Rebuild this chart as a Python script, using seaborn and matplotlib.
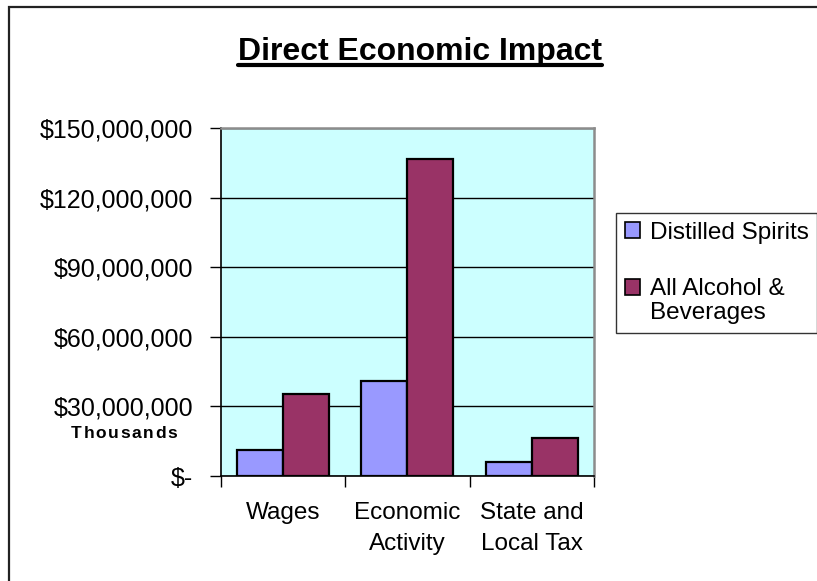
import numpy as np
import pandas as pd
import seaborn as sns
import matplotlib.pyplot as plt
from matplotlib.ticker import FuncFormatter, FixedLocator
from matplotlib.patches import Rectangle
from matplotlib.lines import Line2D

categories = ['Wages', 'Economic\nActivity', 'State and\nLocal Tax']
series = ['Distilled Spirits', 'All Alcohol &\nBeverages']
distilled = [11200000, 41000000, 5900000]
all_alcohol = [35300000, 136600000, 16200000]
yticks = [0, 30000000, 60000000, 90000000, 120000000, 150000000]

df = pd.DataFrame({
    'category': categories * 2,
    'series': [series[0]] * 3 + [series[1]] * 3,
    'value': distilled + all_alcohol,
})

sns.set_theme(style='white')
plt.rcParams['font.family'] = ['Liberation Sans', 'DejaVu Sans']
plt.rcParams['text.color'] = 'black'
plt.rcParams['xtick.color'] = 'black'
plt.rcParams['ytick.color'] = 'black'
plt.rcParams['xtick.labelcolor'] = 'black'
plt.rcParams['ytick.labelcolor'] = 'black'

W, H = 817, 581
fig = plt.figure(figsize=(W / 100, H / 100), dpi=100)
ax = fig.add_axes([220.7 / W, (H - 476) / H, (594 - 220.7) / W, (476 - 128) / H])
ax.set_facecolor('#CCFFFF')

sns.barplot(data=df, x='category', y='value', hue='series', order=categories,
            hue_order=series, palette=['#9999FF', '#993366'], width=0.74,
            edgecolor='black', linewidth=1.6, saturation=1, ax=ax)

ax.set_ylim(0, 150000000)
ax.set_xlim(-0.5, 2.5)
ax.yaxis.set_major_locator(FixedLocator(yticks))
ax.yaxis.set_major_formatter(FuncFormatter(lambda v, p: '$-' if v == 0 else '${:,.0f}'.format(v)))
ax.grid(axis='y', color='black', linewidth=1)
ax.set_axisbelow(True)
ax.set_xlabel('')
ax.set_ylabel('')

ax.tick_params(axis='y', direction='out', length=8, width=1, color='black',
               labelcolor='black', labelsize=18, pad=12, left=True)
ax.tick_params(axis='x', which='major', length=0, labelcolor='black',
               labelsize=17.5, pad=19)
ax.xaxis.set_minor_locator(FixedLocator([-0.5, 0.5, 1.5, 2.5]))
ax.tick_params(axis='x', which='minor', direction='out', length=8, width=1,
               color='black', bottom=True)
for lab in ax.get_xticklabels():
    lab.set_linespacing(1.5)

for s in ['top', 'right']:
    ax.spines[s].set_color('#8C8C8C')
    ax.spines[s].set_linewidth(1.8)
for s in ['left', 'bottom']:
    ax.spines[s].set_color('black')
    ax.spines[s].set_linewidth(1.2)

handles, labels = ax.get_legend_handles_labels()
for h in handles:
    h.set_edgecolor('black')
    h.set_linewidth(1.2)
leg = ax.legend(handles, series, loc='upper left',
                bbox_to_anchor=(616 / W, (H - 213) / H), bbox_transform=fig.transFigure,
                fontsize=17.5, frameon=True, fancybox=False, edgecolor='black',
                handlelength=0.65, handleheight=0.65, handletextpad=0.4,
                borderpad=0.35, labelspacing=1.4, borderaxespad=0)
leg.get_frame().set_linewidth(1)
for t in leg.get_texts():
    t.set_linespacing(1.15)
    t.set_color('black')
# put the second marker next to the first line of its label
h2 = leg.legend_handles[1]
h2.set_y(h2.get_y() + 0.5 * 1.15 * 17.5)

# letter-spaced "Thousands"
fig.canvas.draw()
renderer = fig.canvas.get_renderer()
word = 'Thousands'
spacing = 1.6
widths = []
for ch in word:
    tmp = fig.text(0, 0, ch, fontsize=12.5, fontweight='bold')
    widths.append(tmp.get_window_extent(renderer).width)
    tmp.remove()
total = sum(widths) + spacing * (len(word) - 1)
x = 124 - total / 2
for ch, w in zip(word, widths):
    fig.text(x / W, (H - 434) / H, ch, ha='left', va='center',
             fontsize=12.5, fontweight='bold', color='black')
    x += w + spacing

title = fig.text(420 / W, (H - 60) / H, 'Direct Economic Impact', ha='center',
                 va='baseline', fontsize=23, fontweight='bold', color='black')
fig.canvas.draw()
bb = title.get_window_extent()
uy = (H - 65) / H
fig.lines.append(Line2D([bb.x0 / W, bb.x1 / W], [uy, uy], transform=fig.transFigure,
                        color='black', linewidth=3))

fig.patches.append(Rectangle((8.5 / W, -0.1), 1.2, (H - 6.5) / H + 0.1,
                             transform=fig.transFigure, fill=False,
                             edgecolor='#222222', linewidth=1.6))

fig.savefig('out.png', dpi=100)
